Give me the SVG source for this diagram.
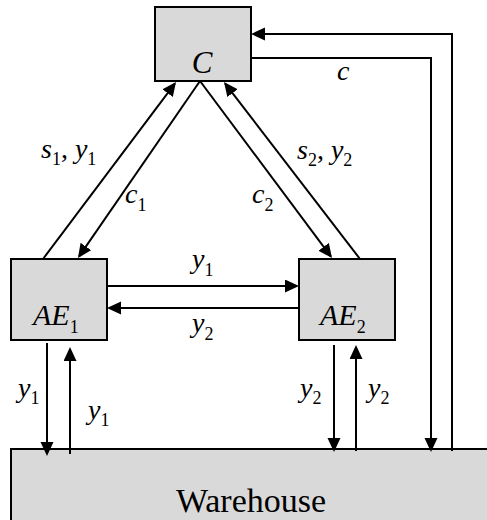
<svg xmlns="http://www.w3.org/2000/svg" width="487" height="520" viewBox="0 0 487 520">
<style>
.box{fill:#d9d9d9;stroke:#000;stroke-width:2}
.ln{fill:none;stroke:#000;stroke-width:2}
</style>
<defs>
<marker id="ah" markerUnits="userSpaceOnUse" markerWidth="14" markerHeight="14" refX="12" refY="6.5" orient="auto">
<path d="M0,0 L14,6.5 L0,13 Z" fill="#000"/>
</marker>
</defs>
<rect width="487" height="520" fill="#fff"/>
<g id="warehouse">
<rect class="box" x="11" y="449" width="480" height="80"/>
<text font-family="Liberation Serif, serif" x="251" y="512" text-anchor="middle" font-size="34">Warehouse</text>
</g>
<g id="C">
<rect class="box" x="155" y="7" width="96" height="74"/>
<text font-family="Liberation Serif, serif" font-style="italic" x="202" y="73" text-anchor="middle" font-size="31">C</text>
</g>
<g id="AE1">
<rect class="box" x="11" y="259" width="96" height="81"/>
<text font-family="Liberation Serif, serif" x="33" y="325" font-size="30"><tspan font-style="italic">AE</tspan><tspan font-size="18" dy="8">1</tspan></text>
</g>
<g id="AE2">
<rect class="box" x="299" y="259" width="96" height="81"/>
<text font-family="Liberation Serif, serif" x="320" y="325" font-size="30"><tspan font-style="italic">AE</tspan><tspan font-size="18" dy="8">2</tspan></text>
</g>
<g id="connectors">
<line class="ln" x1="43" y1="259" x2="174.8" y2="83.6" marker-end="url(#ah)"/>
<line class="ln" x1="200" y1="81" x2="79.1" y2="256.4" marker-end="url(#ah)"/>
<line class="ln" x1="200" y1="81" x2="330.8" y2="256.4" marker-end="url(#ah)"/>
<line class="ln" x1="360" y1="259" x2="225.2" y2="83.6" marker-end="url(#ah)"/>
<line class="ln" x1="107" y1="286" x2="297" y2="286" marker-end="url(#ah)"/>
<line class="ln" x1="299" y1="308" x2="109" y2="308" marker-end="url(#ah)"/>
<line class="ln" x1="47" y1="343" x2="47" y2="454" marker-end="url(#ah)"/>
<line class="ln" x1="70" y1="454" x2="70" y2="349" marker-end="url(#ah)"/>
<line class="ln" x1="334" y1="345" x2="334" y2="450" marker-end="url(#ah)"/>
<line class="ln" x1="356" y1="451" x2="356" y2="347" marker-end="url(#ah)"/>
<polyline class="ln" points="251,58 431,58 431,450" marker-end="url(#ah)"/>
<polyline class="ln" points="452,451 452,34 253,34" marker-end="url(#ah)"/>
</g>
<g id="labels">
<text font-family="Liberation Serif, serif" font-size="28" x="41" y="158"><tspan font-style="italic">s</tspan><tspan font-size="18" dy="7">1</tspan><tspan dy="-7">, </tspan><tspan font-style="italic">y</tspan><tspan font-size="18" dy="7">1</tspan></text>
<text font-family="Liberation Serif, serif" font-size="28" x="125" y="203"><tspan font-style="italic">c</tspan><tspan font-size="18" dy="8">1</tspan></text>
<text font-family="Liberation Serif, serif" font-size="28" x="297" y="159"><tspan font-style="italic">s</tspan><tspan font-size="18" dy="7">2</tspan><tspan dy="-7">, </tspan><tspan font-style="italic">y</tspan><tspan font-size="18" dy="7">2</tspan></text>
<text font-family="Liberation Serif, serif" font-size="28" x="252" y="203"><tspan font-style="italic">c</tspan><tspan font-size="18" dy="8">2</tspan></text>
<text font-family="Liberation Serif, serif" font-size="28" font-style="italic" x="337" y="80">c</text>
<text font-family="Liberation Serif, serif" font-size="28" x="192" y="268"><tspan font-style="italic">y</tspan><tspan font-size="18" dy="8">1</tspan></text>
<text font-family="Liberation Serif, serif" font-size="28" x="192" y="332"><tspan font-style="italic">y</tspan><tspan font-size="18" dy="8">2</tspan></text>
<text font-family="Liberation Serif, serif" font-size="28" x="18" y="397"><tspan font-style="italic">y</tspan><tspan font-size="18" dy="7">1</tspan></text>
<text font-family="Liberation Serif, serif" font-size="28" x="88" y="419"><tspan font-style="italic">y</tspan><tspan font-size="18" dy="7">1</tspan></text>
<text font-family="Liberation Serif, serif" font-size="28" x="300" y="397"><tspan font-style="italic">y</tspan><tspan font-size="18" dy="7">2</tspan></text>
<text font-family="Liberation Serif, serif" font-size="28" x="368" y="397"><tspan font-style="italic">y</tspan><tspan font-size="18" dy="7">2</tspan></text>
</g>
</svg>
